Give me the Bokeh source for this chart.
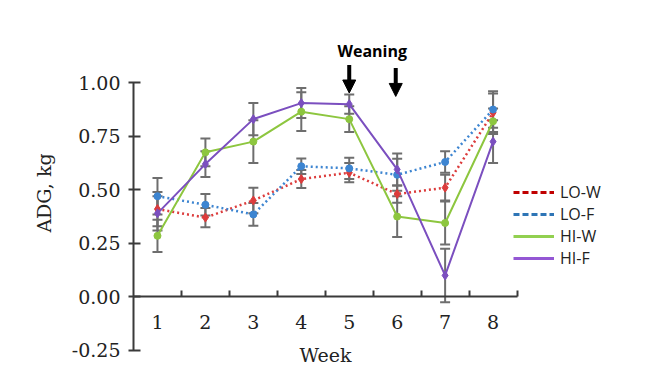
from bokeh.plotting import figure
from bokeh.models import (ColumnDataSource, Whisker, TeeHead, FixedTicker, Legend, LegendItem,
                          Arrow, NormalHead, Label, Range1d, NumeralTickFormatter)
from bokeh.embed import file_html
from bokeh.resources import INLINE

weeks = [1, 2, 3, 4, 5, 6, 7, 8]
week_labels = ["1", "2", "3", "4", "5", "6", "7", "8"]
lo_w = [0.41, 0.37, 0.45, 0.55, 0.58, 0.48, 0.51, 0.86]
lo_w_err = [0.08, 0.045, 0.06, 0.042, 0.045, 0.04, 0.06, 0.09]
lo_f = [0.47, 0.43, 0.385, 0.61, 0.60, 0.57, 0.63, 0.875]
lo_f_err = [0.085, 0.05, 0.053, 0.036, 0.05, 0.075, 0.05, 0.085]
hi_w = [0.285, 0.675, 0.725, 0.865, 0.83, 0.375, 0.345, 0.82]
hi_w_err = [0.075, 0.065, 0.1, 0.09, 0.06, 0.095, 0.1, 0.06]
hi_f = [0.39, 0.62, 0.83, 0.905, 0.90, 0.595, 0.10, 0.725]
hi_f_err = [0.08, 0.06, 0.075, 0.07, 0.045, 0.075, 0.125, 0.1]
y_ticks = [-0.25, 0.0, 0.25, 0.5, 0.75, 1.0]
weaning_weeks = [5, 6]
arrow_top = [1.083, 1.069]
arrow_bottom = [0.952, 0.936]

SERIF = "DejaVu Serif"
AXIS_COLOR = "#3a3a3a"
NAN = float("nan")

p = figure(width=627, height=372, output_backend="svg", toolbar_location=None,
           x_range=Range1d(0.5, 10.7), y_range=Range1d(-0.33, 1.3),
           min_border_left=133, min_border_right=5, min_border_top=18, min_border_bottom=5)
p.outline_line_color = None
p.grid.visible = False
p.background_fill_color = "white"

# error bars
err_color = "#6e6e6e"
for vals, errs in [(lo_w, lo_w_err), (lo_f, lo_f_err), (hi_w, hi_w_err), (hi_f, hi_f_err)]:
    src = ColumnDataSource(dict(x=weeks,
                                upper=[v + e for v, e in zip(vals, errs)],
                                lower=[v - e for v, e in zip(vals, errs)]))
    w = Whisker(base="x", upper="upper", lower="lower", source=src,
                line_color=err_color, line_width=2,
                upper_head=TeeHead(size=10, line_color=err_color, line_width=2),
                lower_head=TeeHead(size=10, line_color=err_color, line_width=2))
    p.add_layout(w)

series = [
    ("LO-W", lo_w, "#dc3c3c", "dotted", "diamond"),
    ("LO-F", lo_f, "#3d85d1", "dotted", "circle"),
    ("HI-W", hi_w, "#8dc63f", "solid", "circle"),
    ("HI-F", hi_f, "#7b4fbf", "solid", "diamond"),
]
for name, vals, col, style, marker in series:
    if style == "dotted":
        p.line(weeks, vals, line_color=col, line_width=2.5, line_dash="2 3")
    else:
        p.line(weeks, vals, line_color=col, line_width=2)
    p.scatter(weeks, vals, marker=marker, size=9 if marker == "diamond" else 7,
              fill_color=col, line_color=col)

# legend (styled like the reference's separate key)
leg_styles = [
    ("LO-W", "#c00000", "6 3"),
    ("LO-F", "#2e75b6", "6 3"),
    ("HI-W", "#92d050", "solid"),
    ("HI-F", "#9457d4", "solid"),
]
items = []
for name, col, dash in leg_styles:
    r = p.line(x=[NAN], y=[NAN], line_color=col, line_width=3, line_dash=dash)
    items.append(LegendItem(label=name, renderers=[r]))
legend = Legend(items=items, location=(380, 98), padding=0, margin=0, spacing=0,
                glyph_width=41, glyph_height=20, label_height=20, label_standoff=6,
                border_line_alpha=0, background_fill_alpha=0,
                label_text_font="Open Sans", label_text_font_size="16px",
                label_text_color="#222222")
p.add_layout(legend)

# y axis
ya = p.yaxis[0]
ya.ticker = FixedTicker(ticks=y_ticks)
ya.formatter = NumeralTickFormatter(format="0.00")
ya.bounds = (-0.25, 1.0)
ya.axis_label = "ADG, kg"
ya.axis_label_text_font = SERIF
ya.axis_label_text_font_size = "19px"
ya.axis_label_text_font_style = "normal"
ya.axis_label_text_color = "#222222"
ya.axis_label_standoff = 14
ya.major_label_text_font = SERIF
ya.major_label_text_font_size = "19px"
ya.major_label_text_color = "#222222"
ya.major_label_standoff = 8
ya.major_tick_in = 7
ya.major_tick_out = 5
ya.minor_tick_in = 0
ya.minor_tick_out = 0
ya.axis_line_color = AXIS_COLOR
ya.axis_line_width = 2
ya.major_tick_line_color = AXIS_COLOR
ya.major_tick_line_width = 2

# x axis at y = 0
xa = p.xaxis[0]
xa.fixed_location = 0
xa.ticker = FixedTicker(ticks=weeks, minor_ticks=[w + 0.5 for w in weeks])
xa.major_label_overrides = {w: lab for w, lab in zip(weeks, week_labels)}
xa.bounds = (0.5, 8.5)
xa.axis_label = "Week"
xa.axis_label_text_font = SERIF
xa.axis_label_text_font_size = "19px"
xa.axis_label_text_font_style = "normal"
xa.axis_label_text_color = "#222222"
xa.axis_label_standoff = 12
xa.major_label_text_font = SERIF
xa.major_label_text_font_size = "19px"
xa.major_label_text_color = "#222222"
xa.major_label_standoff = 18
xa.major_tick_in = 0
xa.major_tick_out = 0
xa.minor_tick_in = 6
xa.minor_tick_out = 0
xa.minor_tick_line_color = AXIS_COLOR
xa.minor_tick_line_width = 2
xa.axis_line_color = AXIS_COLOR
xa.axis_line_width = 2

# weaning arrows and label
for wk, top, bot in zip(weaning_weeks, arrow_top, arrow_bottom):
    p.add_layout(Arrow(end=NormalHead(size=13, fill_color="black", line_color="black"),
                       x_start=wk - 0.03 * (wk - 5), y_start=top,
                       x_end=wk - 0.03 * (wk - 5), y_end=bot,
                       line_color="black", line_width=4))
p.add_layout(Label(x=5.48, y=1.148, text="Weaning", text_align="center",
                   text_baseline="alphabetic", text_font="Open Sans",
                   text_font_style="bold", text_font_size="16px", text_color="black"))

open("out.html", "w").write(file_html(p, INLINE))
